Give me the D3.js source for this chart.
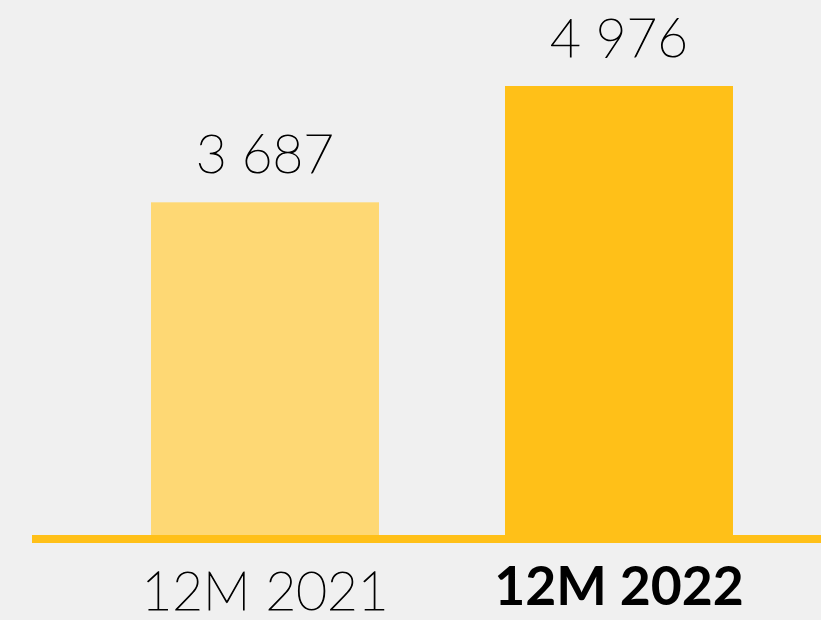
<!DOCTYPE html>
<html>
<head>
<meta charset="utf-8">
<script src="https://cdn.jsdelivr.net/npm/d3@7/dist/d3.min.js"></script>
<style>
  html, body { margin: 0; padding: 0; background: #f0f0f0; }
  svg { display: block; }
</style>
</head>
<body>
<svg id="chart" width="821" height="620"></svg>
<script>
// Yearly totals
const categories = ["12M 2021", "12M 2022"];
const values = [3687, 4976];
const barColors = ["#fed874", "#ffc018"];
const labelWeights = [200, 700];

const width = 821, height = 620;
const svg = d3.select("#chart");

const baseline = 535;
const x = d3.scaleBand()
  .domain(categories)
  .range([88, 796])
  .paddingInner(0.356)
  .paddingOuter(0.178);

const y = d3.scaleLinear()
  .domain([0, 4976])
  .range([baseline, 86]);

const fmt = v => d3.format(",")(v).replace(/,/g, " ");

svg.selectAll("rect.bar")
  .data(values)
  .join("rect")
  .attr("class", "bar")
  .attr("x", (d, i) => x(categories[i]))
  .attr("width", x.bandwidth())
  .attr("y", d => y(d))
  .attr("height", d => baseline - y(d))
  .attr("fill", (d, i) => barColors[i]);

// baseline rule
svg.append("rect")
  .attr("x", 32)
  .attr("y", baseline)
  .attr("width", width - 32)
  .attr("height", 8)
  .attr("fill", "#ffc018");

// value labels (thin face, lightly stroked)
svg.selectAll("text.value")
  .data(values)
  .join("text")
  .attr("class", "value")
  .attr("x", (d, i) => x(categories[i]) + x.bandwidth() / 2)
  .attr("y", d => y(d) - 29)
  .attr("text-anchor", "middle")
  .attr("font-family", "Lato")
  .attr("font-weight", 200)
  .attr("font-size", 53)
  .attr("fill", "#000")
  .attr("stroke", "#000")
  .attr("stroke-width", 1.1)
  .text(fmt);

// category labels
svg.selectAll("text.cat")
  .data(categories)
  .join("text")
  .attr("class", "cat")
  .attr("x", d => x(d) + x.bandwidth() / 2)
  .attr("y", (d, i) => i === 0 ? 610 : 605)
  .attr("text-anchor", "middle")
  .attr("font-family", "Lato")
  .attr("font-weight", (d, i) => labelWeights[i])
  .attr("font-size", (d, i) => i === 0 ? 53 : 53.5)
  .attr("fill", "#000")
  .attr("stroke", (d, i) => i === 0 ? "#000" : "none")
  .attr("stroke-width", 1.1)
  .text(d => d);
</script>
</body>
</html>
